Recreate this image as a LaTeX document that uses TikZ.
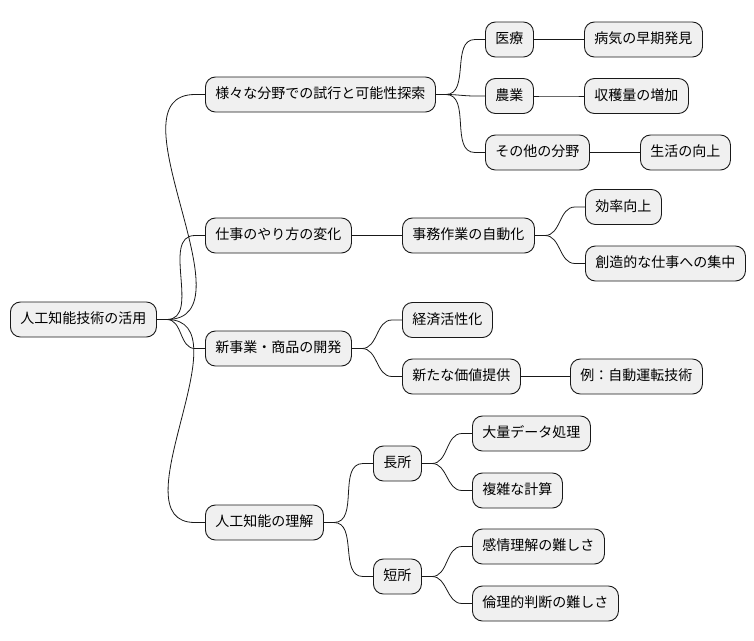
\documentclass[tikz,border=0pt]{standalone}
\usepackage{fontspec}
\setmainfont{Noto Sans CJK JP}
\begin{document}
\begin{tikzpicture}[x=1pt,y=-1pt,
  box/.style={draw=black!90, fill=black!6, line width=0.9pt, rounded corners=10pt,
    anchor=west, minimum height=35pt, inner xsep=10pt, inner ysep=0pt,
    text height=11pt, text depth=3pt, font=\fontsize{14pt}{16pt}\selectfont},
  link/.style={draw=black!90, line width=0.8pt}]
\useasboundingbox (0,0) rectangle (754,640);
\node[box] (root) at (10,319.5) {人工知能技術の活用};
\node[box] (a1) at (205,94.5) {様々な分野での試行と可能性探索};
\node[box] (a2) at (205,235.5) {仕事のやり方の変化};
\node[box] (a3) at (205,348.5) {新事業・商品の開発};
\node[box] (a4) at (205,522.5) {人工知能の理解};
\node[box] (b11) at (485,39.5) {医療};
\node[box] (b12) at (485,96) {農業};
\node[box] (b13) at (485,152.5) {その他の分野};
\node[box] (c11) at (584,39.5) {病気の早期発見};
\node[box] (c12) at (584,96) {収穫量の増加};
\node[box] (c13) at (640,152.5) {生活の向上};
\node[box] (b21) at (402,235.5) {事務作業の自動化};
\node[box] (c211) at (585,207) {効率向上};
\node[box] (c212) at (585,263.5) {創造的な仕事への集中};
\node[box] (b31) at (402,320) {経済活性化};
\node[box] (b32) at (402,376.5) {新たな価値提供};
\node[box] (c321) at (570,376.5) {例：自動運転技術};
\node[box] (b41) at (373,463.5) {長所};
\node[box] (b42) at (373,576.5) {短所};
\node[box] (c411) at (472,433.5) {大量データ処理};
\node[box] (c412) at (472,490.5) {複雑な計算};
\node[box] (c421) at (472,546.5) {感情理解の難しさ};
\node[box] (c422) at (472,603.5) {倫理的判断の難しさ};
\foreach \p/\c in {root/a1,root/a2,root/a3,root/a4,a1/b11,a1/b12,a1/b13,b11/c11,b12/c12,b13/c13,
  a2/b21,b21/c211,b21/c212,a3/b31,a3/b32,b32/c321,a4/b41,a4/b42,b41/c411,b41/c412,b42/c421,b42/c422}
  \draw[link] (\p.east) -- ([xshift=10pt]\p.east) to[out=0,in=180] ([xshift=-10pt]\c.west) -- (\c.west);
\end{tikzpicture}
\end{document}
